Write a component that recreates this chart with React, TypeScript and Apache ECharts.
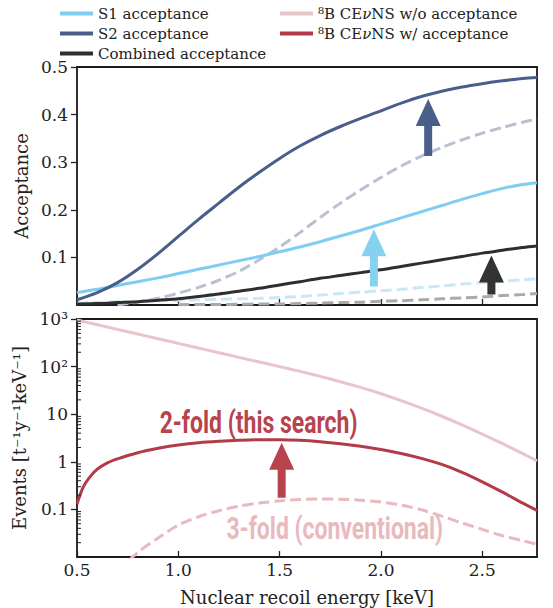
import { useEffect, useRef } from 'react';
import * as echarts from 'echarts';

// Nuclear recoil energy grid [keV] for the acceptance panel
const energy = [0.5, 0.6, 0.7, 0.8, 0.9, 1.0, 1.1, 1.2, 1.3, 1.4, 1.5, 1.6, 1.7, 1.8, 1.9, 2.0, 2.1, 2.2, 2.3, 2.4, 2.5, 2.6, 2.7, 2.77];

// 2-fold acceptances (solid)
const s1Acc = [0.026, 0.033, 0.041, 0.049, 0.057, 0.066, 0.075, 0.084, 0.093, 0.102, 0.112, 0.122, 0.133, 0.145, 0.157, 0.17, 0.183, 0.196, 0.209, 0.222, 0.234, 0.245, 0.253, 0.257];
const s2Acc = [0.011, 0.026, 0.047, 0.075, 0.108, 0.144, 0.18, 0.214, 0.248, 0.279, 0.308, 0.334, 0.356, 0.375, 0.392, 0.408, 0.424, 0.438, 0.449, 0.458, 0.465, 0.471, 0.476, 0.478];
const combAcc = [0.002, 0.003, 0.005, 0.007, 0.01, 0.013, 0.018, 0.023, 0.029, 0.035, 0.042, 0.049, 0.056, 0.062, 0.068, 0.074, 0.081, 0.088, 0.095, 0.102, 0.109, 0.115, 0.121, 0.124];

// conventional 3-fold acceptances (dashed)
const s1Acc3 = [0.003, 0.005, 0.007, 0.008, 0.009, 0.01, 0.011, 0.012, 0.013, 0.014, 0.016, 0.018, 0.021, 0.024, 0.027, 0.03, 0.033, 0.037, 0.04, 0.044, 0.047, 0.05, 0.053, 0.055];
const s2Acc3 = [null, null, 0.0, 0.006, 0.014, 0.025, 0.037, 0.052, 0.071, 0.095, 0.122, 0.152, 0.184, 0.214, 0.242, 0.268, 0.292, 0.313, 0.331, 0.347, 0.361, 0.373, 0.384, 0.39];
const combAcc3 = [null, null, null, null, null, 0.0005, 0.001, 0.001, 0.0015, 0.002, 0.002, 0.003, 0.004, 0.005, 0.006, 0.008, 0.009, 0.011, 0.013, 0.015, 0.017, 0.02, 0.022, 0.024];

// Energy grid for the event-rate panel (denser at threshold)
const energyEvt = [0.5, 0.53, 0.56, 0.6, 0.65, 0.7, 0.8, 0.9, 1.0, 1.1, 1.2, 1.3, 1.4, 1.5, 1.6, 1.7, 1.8, 1.9, 2.0, 2.1, 2.2, 2.3, 2.4, 2.5, 2.6, 2.7, 2.77];
const rateNoAcc = [950, 889, 830, 759, 678, 605, 483, 385, 308, 245, 196, 156, 125, 100, 79.4, 62.4, 48.2, 36.5, 26.9, 19.3, 13.4, 9.06, 5.96, 3.82, 2.4, 1.48, 1.05];
const rate2fold = [0.13, 0.29, 0.46, 0.7, 0.95, 1.15, 1.55, 1.92, 2.25, 2.52, 2.7, 2.83, 2.9, 2.9, 2.82, 2.64, 2.4, 2.12, 1.82, 1.5, 1.18, 0.88, 0.6, 0.38, 0.23, 0.135, 0.095];
const rate3fold = [null, null, null, null, null, 0.005, 0.0125, 0.025, 0.047, 0.07, 0.094, 0.117, 0.136, 0.151, 0.161, 0.165, 0.163, 0.156, 0.143, 0.123, 0.098, 0.072, 0.052, 0.038, 0.028, 0.022, 0.0185];

// Improvement arrows: [energy, from, to]
const accArrows = [
  [2.233, 0.313, 0.433],
  [1.965, 0.039, 0.159],
  [2.545, 0.022, 0.104],
];
const accArrowColors = ['#4a5e8c', '#88d0f0', '#333333'];
const evtArrows = [[1.51, 0.176, 2.5]];
const evtArrowColors = ['#b8434d'];

// Text annotations in the event-rate panel: [energy, rate]
const evtNotes = [[1.396, 6.9], [1.772, 0.041]];
const evtNoteTexts = ['2-fold (this search)', '3-fold (conventional)'];
const evtNoteColors = ['#b8434d', '#e8b9bd'];

// Axis tick values
const xTicks = [0.5, 1.0, 1.5, 2.0, 2.5];
const accTicks = [0.1, 0.2, 0.3, 0.4, 0.5];
const evtTicks = [0.1, 1, 10, 100, 1000];
const evtTickLabels: Record<string, string> = { '0.1': '0.1', '1': '1', '10': '10', '100': '10²', '1000': '10³' };
const evtMinorTicks: number[] = [];
[0.01, 0.1, 1, 10, 100].forEach((d) => {
  for (let k = 2; k <= 9; k++) evtMinorTicks.push(+(d * k).toPrecision(3));
});

const SERIF = 'DejaVu Serif';
const INK = '#222222';

const pair = (xs: number[], ys: (number | null)[]) => xs.map((x, i) => [x, ys[i]]);

function lineSeries(name: string, xs: number[], ys: (number | null)[], color: string, idx: number, dashed = false, z = 3) {
  return {
    type: 'line',
    name,
    xAxisIndex: idx,
    yAxisIndex: idx,
    data: pair(xs, ys),
    showSymbol: false,
    symbol: 'none',
    smooth: 0.3,
    connectNulls: false,
    lineStyle: { color, width: 3, type: dashed ? [11, 5] : 'solid', cap: 'butt' },
    itemStyle: { color },
    z,
    silent: true,
  };
}

function arrowSeries(arrows: number[][], colors: string[], idx: number) {
  return {
    type: 'custom',
    xAxisIndex: idx,
    yAxisIndex: idx,
    coordinateSystem: 'cartesian2d',
    silent: true,
    z: 10,
    clip: false,
    encode: { x: 0, y: [1, 2] },
    data: arrows,
    renderItem: (params: any, api: any) => {
      const x = api.value(0);
      const base = api.coord([x, api.value(1)]);
      const tip = api.coord([x, api.value(2)]);
      const hw = 12.5, sw = 4, hl = 27;
      return {
        type: 'polygon',
        shape: {
          points: [
            [tip[0], tip[1]],
            [tip[0] + hw, tip[1] + hl],
            [tip[0] + sw, tip[1] + hl],
            [base[0] + sw, base[1]],
            [base[0] - sw, base[1]],
            [tip[0] - sw, tip[1] + hl],
            [tip[0] - hw, tip[1] + hl],
          ],
        },
        style: { fill: colors[params.dataIndex] },
      };
    },
  };
}

const axisTickStyle = { lineStyle: { color: INK, width: 1.3 } };
const labelStyle = { fontFamily: SERIF, fontSize: 17, color: INK };

const legendBase = {
  orient: 'vertical',
  top: 6,
  padding: 0,
  itemWidth: 33,
  itemHeight: 14,
  itemGap: 5,
  selectedMode: false,
  lineStyle: { width: 4 },
  itemStyle: { color: 'transparent', borderWidth: 0, opacity: 0 },
};

const option: any = {
  animation: false,
  backgroundColor: '#ffffff',
  legend: [
    {
      ...legendBase,
      data: ['S1 acceptance', 'S2 acceptance', 'Combined acceptance'],
      left: 58,
      textStyle: { fontFamily: SERIF, fontSize: 15, color: INK },
    },
    {
      ...legendBase,
      data: ['⁸B CEνNS w/o acceptance', '⁸B CEνNS w/ acceptance'],
      left: 278,
      formatter: (name: string) => name.replace('ν', '{nu|ν}'),
      textStyle: {
        fontFamily: SERIF,
        fontSize: 15,
        color: INK,
        rich: { nu: { fontFamily: SERIF, fontSize: 15, fontStyle: 'italic', color: INK } },
      },
    },
  ],
  grid: [
    { left: 77, right: 16, top: 67, height: 238, show: true, borderColor: '#1a1a1a', borderWidth: 1.8, backgroundColor: 'transparent' },
    { left: 77, right: 16, top: 319, height: 238, show: true, borderColor: '#1a1a1a', borderWidth: 1.8, backgroundColor: 'transparent' },
  ],
  xAxis: [
    {
      gridIndex: 0,
      type: 'value',
      min: 0.5,
      max: 2.77,
      axisLine: { show: false },
      splitLine: { show: false },
      axisLabel: { show: false, customValues: xTicks },
      axisTick: { show: true, inside: true, length: 6, customValues: xTicks, ...axisTickStyle },
    },
    {
      gridIndex: 1,
      type: 'value',
      min: 0.5,
      max: 2.77,
      axisLine: { show: false },
      splitLine: { show: false },
      axisLabel: { ...labelStyle, margin: 4, customValues: xTicks, formatter: (v: number) => v.toFixed(1) },
      axisTick: { show: true, inside: true, length: 6, customValues: xTicks, ...axisTickStyle },
      name: 'Nuclear recoil energy [keV]',
      nameLocation: 'middle',
      nameGap: 31,
      nameTextStyle: { fontFamily: SERIF, fontSize: 18, color: INK },
    },
  ],
  yAxis: [
    {
      gridIndex: 0,
      type: 'value',
      min: 0,
      max: 0.5,
      axisLine: { show: false },
      splitLine: { show: false },
      axisLabel: { ...labelStyle, margin: 9, customValues: accTicks, formatter: (v: number) => v.toFixed(1) },
      axisTick: { show: true, inside: false, length: 6, customValues: accTicks, ...axisTickStyle },
      name: 'Acceptance',
      nameLocation: 'middle',
      nameGap: 43,
      nameTextStyle: { fontFamily: SERIF, fontSize: 18, color: INK },
    },
    {
      gridIndex: 1,
      type: 'log',
      logBase: 10,
      min: 0.01,
      max: 1000,
      axisLine: { show: false },
      splitLine: { show: false },
      minorTick: { show: false },
      axisLabel: {
        ...labelStyle,
        margin: 9,
        customValues: evtTicks,
        formatter: (v: number) => evtTickLabels[String(+v.toPrecision(3))] ?? '',
      },
      axisTick: { show: true, inside: false, length: 6, customValues: evtTicks, ...axisTickStyle },
      name: 'Events [t⁻¹y⁻¹keV⁻¹]',
      nameLocation: 'middle',
      nameGap: 46,
      nameTextStyle: { fontFamily: SERIF, fontSize: 18, color: INK },
    },
  ],
  series: [
    // acceptance panel: dashed (3-fold) first, solid (2-fold) on top
    lineSeries('S2 3-fold', energy, s2Acc3, '#b9c0d2', 0, true, 2),
    lineSeries('S1 3-fold', energy, s1Acc3, '#c9e8f6', 0, true, 2),
    lineSeries('Combined 3-fold', energy, combAcc3, '#aaaaaa', 0, true, 2),
    lineSeries('S1 acceptance', energy, s1Acc, '#7fcdf0', 0),
    lineSeries('S2 acceptance', energy, s2Acc, '#4a5e8c', 0),
    lineSeries('Combined acceptance', energy, combAcc, '#2e2e2e', 0),
    arrowSeries(accArrows, accArrowColors, 0),
    // event-rate panel
    lineSeries('⁸B CEνNS w/o acceptance', energyEvt, rateNoAcc, '#e8c5c8', 1),
    lineSeries('3-fold rate', energyEvt, rate3fold, '#e8b9bd', 1, true, 2),
    lineSeries('⁸B CEνNS w/ acceptance', energyEvt, rate2fold, '#b23b47', 1),
    arrowSeries(evtArrows, evtArrowColors, 1),
    {
      // minor log ticks on the left edge, pointing inward
      type: 'custom',
      xAxisIndex: 1,
      yAxisIndex: 1,
      coordinateSystem: 'cartesian2d',
      silent: true,
      clip: false,
      z: 12,
      encode: { x: 0, y: 1 },
      data: evtMinorTicks.map((v) => [0.5, v]),
      renderItem: (params: any, api: any) => {
        const p = api.coord([api.value(0), api.value(1)]);
        return {
          type: 'line',
          shape: { x1: p[0], y1: p[1], x2: p[0] + 4, y2: p[1] },
          style: { stroke: INK, lineWidth: 1 },
        };
      },
    },
    {
      // panel annotations
      type: 'custom',
      xAxisIndex: 1,
      yAxisIndex: 1,
      coordinateSystem: 'cartesian2d',
      silent: true,
      clip: false,
      z: 11,
      encode: { x: 0, y: 1 },
      data: evtNotes,
      renderItem: (params: any, api: any) => {
        const p = api.coord([api.value(0), api.value(1)]);
        return {
          type: 'text',
          x: p[0],
          y: p[1],
          scaleX: 0.82,
          scaleY: 1.15,
          style: {
            text: evtNoteTexts[params.dataIndex],
            fill: evtNoteColors[params.dataIndex],
            fontFamily: 'Roboto',
            fontWeight: 'bold',
            fontSize: 28,
            align: 'center',
            verticalAlign: 'middle',
          },
        };
      },
    },
  ],
};

export default function App() {
  const ref = useRef<HTMLDivElement>(null);
  useEffect(() => {
    const chart = echarts.init(ref.current!, null, { renderer: 'svg' });
    chart.setOption(option);
    return () => chart.dispose();
  }, []);
  return (
    <div
      ref={ref}
      style={{ position: 'absolute', left: 0, top: 0, width: 553, height: 608, background: '#ffffff' }}
    />
  );
}
